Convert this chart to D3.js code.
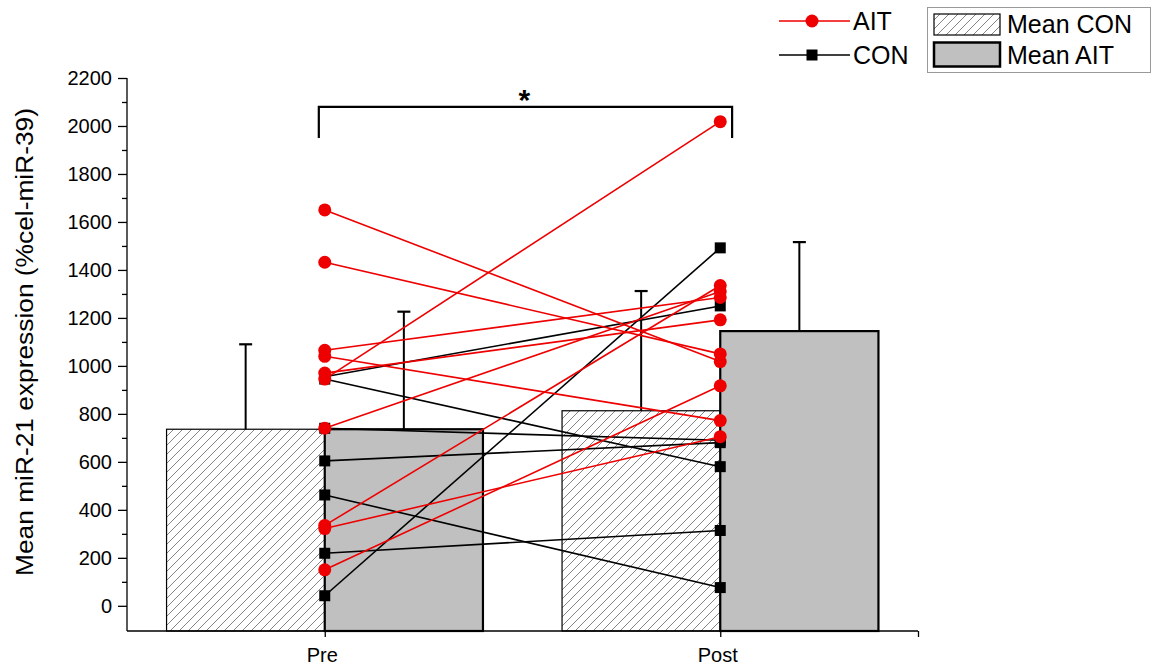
<!DOCTYPE html>
<html>
<head>
<meta charset="utf-8">
<script src="https://cdn.jsdelivr.net/npm/d3@7"></script>
<style>
  html, body { margin: 0; padding: 0; background: #fff; }
  svg { display: block; font-family: "Liberation Sans", Arial, sans-serif; }
</style>
</head>
<body>
<svg id="chart" width="1160" height="671"></svg>
<script>
// ---------- data ----------
const groups = ["Pre", "Post"];
const groupPos = [1, 2];
const meanCON = [736, 813];
const meanAIT = [736, 1145];
const errTopCON = [1090, 1312];
const errTopAIT = [1226, 1516];

const aitPre  = [1650, 1432, 1065, 1040, 970, 945, 740, 335, 322, 150];
const aitPost = [1018, 1050, 1285, 772, 1192, 2018, 1310, 1335, 705, 917];
const conPre  = [955, 945, 740, 604, 462, 219, 42];
const conPost = [1250, 580, 690, 680, 76, 314, 1492];

const yTicks = [0, 200, 400, 600, 800, 1000, 1200, 1400, 1600, 1800, 2000, 2200];
const yMinor = [100, 300, 500, 700, 900, 1100, 1300, 1500, 1700, 1900, 2100];
const yTitle = "Mean miR-21 expression (%cel-miR-39)";
const sigLabel = "*";

// ---------- scales ----------
const svg = d3.select("#chart");
const x = d3.scaleLinear().domain([0.5, 2.5]).range([127, 918]);
const y = d3.scaleLinear().domain([-105, 2200]).range([631, 78]);
const barW = 0.4;
const RED = "#ee0000";

// hatch pattern
const defs = svg.append("defs");
const pat = defs.append("pattern").attr("id", "hatch")
  .attr("patternUnits", "userSpaceOnUse").attr("width", 9).attr("height", 9);
pat.append("path").attr("d", "M-1,1 l2,-2 M0,9 l9,-9 M8,10 l2,-2")
  .attr("stroke", "#666").attr("stroke-width", 0.8);

// ---------- bars ----------
const g = svg.append("g");
g.selectAll("rect.con").data(groupPos).join("rect").attr("class", "con")
  .attr("x", (d) => x(d - barW)).attr("width", x(barW) - x(0))
  .attr("y", (d, i) => y(meanCON[i])).attr("height", (d, i) => y(-105) - y(meanCON[i]))
  .attr("fill", "url(#hatch)").attr("stroke", "#000").attr("stroke-width", 1.2);
g.selectAll("rect.ait").data(groupPos).join("rect").attr("class", "ait")
  .attr("x", (d) => x(d)).attr("width", x(barW) - x(0))
  .attr("y", (d, i) => y(meanAIT[i])).attr("height", (d, i) => y(-105) - y(meanAIT[i]))
  .attr("fill", "#c0c0c0").attr("stroke", "#000").attr("stroke-width", 2.2);

// error bars
function errBar(cx, top, val) {
  g.append("line").attr("x1", cx).attr("x2", cx).attr("y1", y(val)).attr("y2", y(top))
    .attr("stroke", "#000").attr("stroke-width", 2);
  g.append("line").attr("x1", cx - 6.5).attr("x2", cx + 6.5).attr("y1", y(top)).attr("y2", y(top))
    .attr("stroke", "#000").attr("stroke-width", 2.2);
}
groupPos.forEach((d, i) => {
  errBar(x(d - barW / 2), errTopCON[i], meanCON[i]);
  errBar(x(d + barW / 2), errTopAIT[i], meanAIT[i]);
});

// ---------- axes ----------
const yAxis = d3.axisLeft(y).tickValues(yTicks).tickSize(9).tickPadding(6).tickFormat(d3.format("d"));
const ya = svg.append("g").attr("transform", `translate(${x(0.5)},0)`).call(yAxis);
ya.select(".domain").attr("d", `M0,${y(2200)}V${y(-105)}`).attr("stroke-width", 1.3);
ya.selectAll(".tick line").attr("stroke-width", 1.3);
ya.selectAll(".tick text").attr("font-size", 20).attr("fill", "#000")
  .attr("font-family", "Liberation Sans, Arial, sans-serif");
const yMinorAxis = d3.axisLeft(y).tickValues(yMinor).tickSize(5).tickFormat("");
const ym = svg.append("g").attr("transform", `translate(${x(0.5)},0)`).call(yMinorAxis);
ym.select(".domain").remove();
ym.selectAll(".tick line").attr("stroke-width", 1.3);

const xAxis = d3.axisBottom(x).tickValues([1, 2, 2.5]).tickSize(6).tickPadding(11)
  .tickFormat((d) => (d === 1 ? groups[0] : d === 2 ? groups[1] : ""));
const xa = svg.append("g").attr("transform", `translate(0,${y(-105)})`).call(xAxis);
xa.select(".domain").attr("d", `M${x(0.5)},0H${x(2.5)}`).attr("stroke-width", 1.3);
xa.selectAll(".tick line").attr("stroke-width", 1.3);
xa.selectAll(".tick text").attr("font-size", 20).attr("fill", "#000").attr("dx", -3)
  .attr("font-family", "Liberation Sans, Arial, sans-serif");

svg.append("text").attr("transform", `translate(33,342) rotate(-90)`)
  .attr("text-anchor", "middle").attr("font-size", 23)
  .attr("textLength", 468).attr("lengthAdjust", "spacingAndGlyphs").text(yTitle);

// ---------- individual lines ----------
const lp = svg.append("g");
conPre.forEach((v, i) => {
  lp.append("line").attr("x1", x(1)).attr("y1", y(v)).attr("x2", x(2)).attr("y2", y(conPost[i]))
    .attr("stroke", "#000").attr("stroke-width", 1.6);
});
aitPre.forEach((v, i) => {
  lp.append("line").attr("x1", x(1)).attr("y1", y(v)).attr("x2", x(2)).attr("y2", y(aitPost[i]))
    .attr("stroke", RED).attr("stroke-width", 1.6);
});
const sq = 11;
[[1, conPre], [2, conPost]].forEach(([p, arr]) => {
  lp.selectAll(null).data(arr).join("rect")
    .attr("x", x(p) - sq / 2).attr("y", (d) => y(d) - sq / 2)
    .attr("width", sq).attr("height", sq).attr("fill", "#000");
});
[[1, aitPre], [2, aitPost]].forEach(([p, arr]) => {
  lp.selectAll(null).data(arr).join("circle")
    .attr("cx", x(p)).attr("cy", (d) => y(d)).attr("r", 6.5).attr("fill", RED);
});

// ---------- significance bracket ----------
svg.append("path")
  .attr("d", `M${x(0.985)},${y(1950)}V${y(2080)}H${x(2.03)}V${y(1950)}`)
  .attr("fill", "none").attr("stroke", "#000").attr("stroke-width", 2.2);
svg.append("text").attr("x", (x(0.985) + x(2.03)) / 2 - 1).attr("y", y(2080) + 3)
  .attr("text-anchor", "middle").attr("font-size", 30).attr("font-weight", "bold").text(sigLabel);

// ---------- legends ----------
const leg = svg.append("g");
leg.append("line").attr("x1", 779).attr("x2", 850).attr("y1", 21).attr("y2", 21).attr("stroke", RED).attr("stroke-width", 1.6);
leg.append("circle").attr("cx", 812).attr("cy", 21).attr("r", 6.5).attr("fill", RED);
leg.append("text").attr("x", 853).attr("y", 30).attr("font-size", 25).text("AIT");
leg.append("line").attr("x1", 779).attr("x2", 850).attr("y1", 55).attr("y2", 55).attr("stroke", "#000").attr("stroke-width", 1.6);
leg.append("rect").attr("x", 812 - sq / 2).attr("y", 55 - sq / 2).attr("width", sq).attr("height", sq).attr("fill", "#000");
leg.append("text").attr("x", 853).attr("y", 64).attr("font-size", 25).text("CON");

leg.append("rect").attr("x", 927.5).attr("y", 7.5).attr("width", 223).attr("height", 65)
  .attr("fill", "#fff").attr("stroke", "#999").attr("stroke-width", 1);
leg.append("rect").attr("x", 934).attr("y", 14).attr("width", 66).attr("height", 21)
  .attr("fill", "url(#hatch)").attr("stroke", "#000").attr("stroke-width", 1.2);
leg.append("rect").attr("x", 934).attr("y", 42.5).attr("width", 66).attr("height", 24)
  .attr("fill", "#c0c0c0").attr("stroke", "#000").attr("stroke-width", 2.5);
leg.append("text").attr("x", 1007).attr("y", 33).attr("font-size", 25).text("Mean CON");
leg.append("text").attr("x", 1007).attr("y", 64).attr("font-size", 25).text("Mean AIT");
</script>
</body>
</html>
